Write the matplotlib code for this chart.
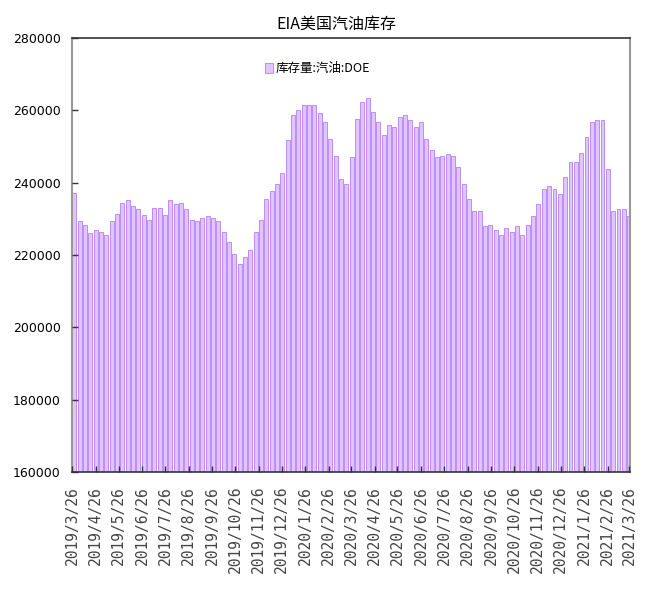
import numpy as np
import pandas as pd
import matplotlib
matplotlib.use('Agg')
import matplotlib.pyplot as plt
import matplotlib.dates as mdates

plt.rcParams['font.family'] = ['Noto Sans CJK SC', 'DejaVu Sans']

# weekly gasoline stocks (thousand barrels)
start_week = '2019-03-29'
stocks = [237200, 229300, 228400, 226100, 227000, 226500, 225600, 229300, 231300, 234400,
          235300, 233500, 232600, 231200, 229700, 232900, 232900, 231200, 235300, 234000,
          234400, 232600, 229700, 229300, 230200, 230700, 230200, 229300, 226400, 223600,
          220400, 217600, 219500, 221300, 226400, 229700, 235400, 237800, 239500, 242800,
          251700, 258700, 260100, 261500, 261500, 261500, 259200, 256900, 252200, 247400,
          240900, 239500, 247000, 257700, 262300, 263500, 259600, 256800, 253100, 256000,
          255500, 258200, 258700, 257200, 255500, 256900, 252200, 249000, 247000, 247400,
          247900, 247400, 244200, 239500, 235400, 232100, 232100, 227900, 228400, 227000,
          225600, 227400, 226500, 227900, 225600, 228400, 230700, 234000, 238200, 239100,
          238200, 236800, 241500, 245600, 245600, 248100, 252700, 256800, 257200, 257200,
          243800, 232100, 232600, 232600, 230700]
weeks = pd.date_range(start_week, periods=len(stocks), freq='7D')

# monthly ticks on the 26th, 2019/3/26 .. 2021/3/26
month_ticks = [pd.Timestamp(2019 + (2 + i) // 12, (2 + i) % 12 + 1, 26) for i in range(25)]
month_labels = [f'{d.year}/{d.month}/{d.day}' for d in month_ticks]

title = 'EIA美国汽油库存'
series_name = '库存量:汽油:DOE'
y_ticks = [160000, 180000, 200000, 220000, 240000, 260000, 280000]

fig = plt.figure(figsize=(6.46, 6.10), dpi=100)
ax = fig.add_axes([0.1115, 0.2262, 0.8635, 0.7115])

ax.bar(weeks, stocks, width=5.0, color='#DFC6FF', edgecolor='#C08CF6',
       linewidth=0.7, label=series_name, zorder=1)
ax.set_axisbelow(False)

ax.set_xlim(pd.Timestamp('2019-03-26'), pd.Timestamp('2021-03-27'))
ax.set_ylim(160000, 280000)
ax.set_yticks(y_ticks)
ax.set_yticklabels([str(v) for v in y_ticks], family='DejaVu Sans', fontsize=9)
ax.set_xticks(month_ticks)
ax.set_xticklabels(month_labels, rotation=90, ha='center', va='top',
                   family='DejaVu Sans Mono', fontsize=10.5, color='#444444')
ax.tick_params(axis='both', direction='in', length=4, width=1, color='#333333')
ax.tick_params(axis='y', pad=8)
ax.tick_params(axis='x', pad=10)

for side in ['left', 'right']:
    ax.spines[side].set_color('#999999')
    ax.spines[side].set_linewidth(1.5)
for side in ['top', 'bottom']:
    ax.spines[side].set_color('#333333')
    ax.spines[side].set_linewidth(1.2)

fig.text(0.52, 0.975, title, fontsize=11.5, ha='center', va='top')
ax.legend(loc='upper center', bbox_to_anchor=(0.44, 0.97), frameon=False,
          fontsize=9, handlelength=0.6, handleheight=0.9, handletextpad=0.2)

fig.savefig('out.png', dpi=100)
